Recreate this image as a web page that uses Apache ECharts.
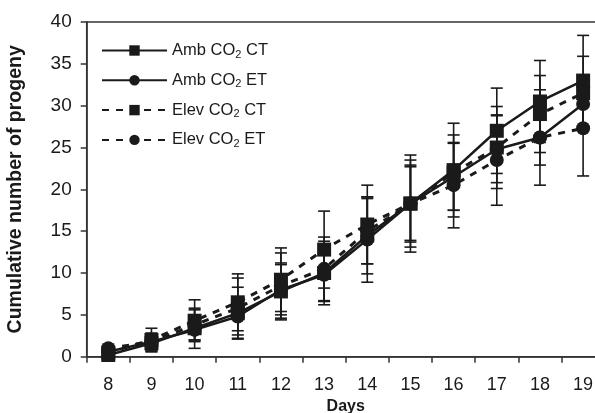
<!DOCTYPE html>
<html>
<head>
<meta charset="utf-8">
<script src="https://cdn.jsdelivr.net/npm/echarts@6/dist/echarts.min.js"></script>
<style>html,body{margin:0;padding:0;background:#fff;}#c{width:595px;height:413px;}</style>
</head>
<body>
<div id="c"></div>
<script>
var days = ['8','9','10','11','12','13','14','15','16','17','18','19'];
var yTicks = [0,5,10,15,20,25,30,35,40];
var ambCT  = [0.2, 1.6, 3.4, 5.2, 7.8, 10.0, 14.5, 18.3, 22.3, 27.0, 30.5, 33.0];
var ambET  = [0.6, 1.8, 3.2, 4.8, 8.0, 9.8, 14.0, 18.3, 21.5, 24.8, 26.2, 30.2];
var elevCT = [0.5, 2.0, 4.3, 6.5, 9.2, 12.8, 15.8, 18.3, 22.0, 25.0, 29.0, 31.5];
var elevET = [1.0, 1.8, 3.8, 5.8, 8.5, 10.5, 15.0, 18.3, 20.5, 23.5, 26.2, 27.3];
var ambCTerr  = [0.5, 1.0, 2.4, 3.1, 3.4, 3.8, 4.6, 5.2, 5.6, 5.1, 4.9, 5.4];
var ambETerr  = [0.5, 1.0, 1.2, 2.2, 3.0, 3.2, 5.1, 4.6, 4.0, 4.0, 3.3, 3.0];
var elevCTerr = [0.6, 1.4, 2.5, 3.4, 3.8, 4.6, 4.7, 4.4, 4.5, 4.9, 4.6, 4.4];
var elevETerr = [0.5, 1.0, 1.8, 3.6, 3.9, 3.8, 3.9, 5.8, 5.1, 5.4, 5.7, 5.7];

var names = ['Amb CO2 CT','Amb CO2 ET','Elev CO2 CT','Elev CO2 ET'];
var vals = [ambCT, ambET, elevCT, elevET];
var errs = [ambCTerr, ambETerr, elevCTerr, elevETerr];
var symbols = ['rect','circle','rect','circle'];
var dashed = [false,false,true,true];

var series = [];
vals.forEach(function(v, k){
  var e = errs[k];
  var data = v.map(function(val,i){ return [i, val - e[i], val + e[i]]; });
  series.push({
    type: 'custom',
    name: names[k] + '_err',
    silent: true,
    z: 1,
    data: data,
    encode: {x: 0, y: [1,2]},
    renderItem: function(params, api){
      var x = api.value(0);
      var lo = api.coord([x, api.value(1)]);
      var hi = api.coord([x, api.value(2)]);
      var w = 6;
      var st = {stroke:'#1a1a1a', lineWidth:1.6};
      return {type:'group', children:[
        {type:'line', shape:{x1:lo[0],y1:lo[1],x2:hi[0],y2:hi[1]}, style:st},
        {type:'line', shape:{x1:lo[0]-w,y1:lo[1],x2:lo[0]+w,y2:lo[1]}, style:st},
        {type:'line', shape:{x1:hi[0]-w,y1:hi[1],x2:hi[0]+w,y2:hi[1]}, style:st}
      ]};
    }
  });
});
vals.forEach(function(v, k){
  series.push({
    type: 'line',
    name: names[k],
    data: v,
    z: 3,
    symbol: symbols[k],
    symbolSize: 14,
    showAllSymbol: true,
    itemStyle: {color:'#1a1a1a'},
    lineStyle: {color:'#1a1a1a', width: dashed[k] ? 3 : 2.5, type: dashed[k] ? [7,7] : 'solid'},
    animation: false
  });
});

var chart = echarts.init(document.getElementById('c'), null, {renderer:'canvas'});
chart.setOption({
  animation: false,
  grid: {left: 86.7, top: 22, bottom: 56.3, width: 518, show: true, borderColor: '#333', borderWidth: 1.5,
         containLabel: false, outerBoundsMode: 'none'},
  legend: {
    orient: 'vertical', left: 96, top: 37,
    itemWidth: 65, itemHeight: 13, itemGap: 11.8,
    data: names,
    formatter: function(n){ return n.replace('CO2', 'CO{sub|2}'); },
    textStyle: {fontFamily: 'Liberation Sans', fontSize: 16.5, color:'#1a1a1a',
      rich: {sub: {fontSize: 11, verticalAlign: 'bottom', padding:[8,0,0,0], fontFamily:'Liberation Sans', color:'#1a1a1a'}}}
  },
  xAxis: {
    type: 'category', data: days, boundaryGap: true,
    name: 'Days', nameLocation: 'middle', nameGap: 42,
    nameTextStyle: {fontFamily:'Liberation Sans', fontSize:16, fontWeight:'bold', color:'#1a1a1a'},
    axisLine: {lineStyle:{color:'#333', width:1.5}},
    axisTick: {show:true, inside:false, length:6, alignWithLabel:false, lineStyle:{color:'#333', width:1.5}},
    axisLabel: {fontFamily:'Liberation Sans', fontSize:18, color:'#1a1a1a', margin:19},
    splitLine: {show:false}
  },
  yAxis: {
    type: 'value', min: yTicks[0], max: yTicks[yTicks.length-1], interval: 5,
    name: 'Cumulative number of progeny', nameLocation: 'middle', nameGap: 61,
    nameTextStyle: {fontFamily:'Liberation Sans', fontSize:19.5, fontWeight:'bold', color:'#1a1a1a'},
    axisLine: {show:true, lineStyle:{color:'#333', width:1.5}},
    axisTick: {show:true, inside:false, length:6, lineStyle:{color:'#333', width:1.5}},
    axisLabel: {fontFamily:'Liberation Sans', fontSize:19, color:'#1a1a1a', margin:15},
    splitLine: {show:false}
  },
  series: series
});
</script>
</body>
</html>
